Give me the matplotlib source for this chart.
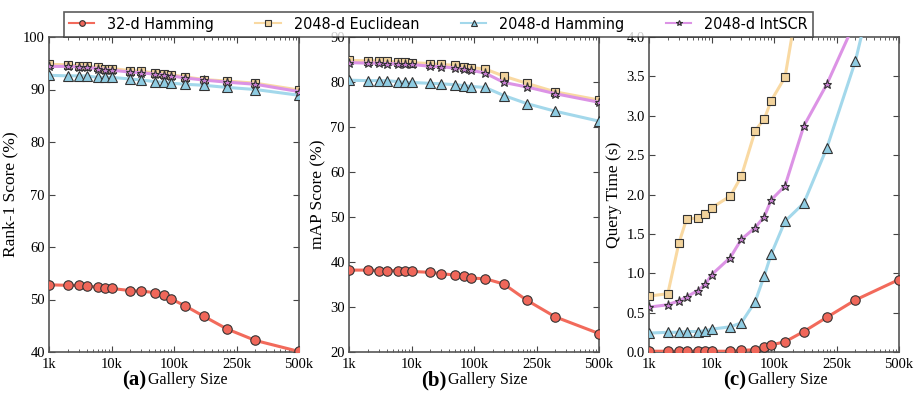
import numpy as np
import matplotlib
matplotlib.use('Agg')
import matplotlib.pyplot as plt
from matplotlib.ticker import FixedLocator, LogLocator, NullFormatter

plt.rcParams['font.family'] = 'Liberation Serif'

# x positions on the log axis (ticks at decades labelled below)
gallery_pos = [1e3, 2e3, 3e3, 4e3, 6e3, 8e3, 1e4, 2e4, 3e4, 5e4, 7e4, 9e4,
               1.5e5, 3e5, 7e5, 2e6, 1e7]
tick_pos = [1e3, 1e4, 1e5, 1e6, 1e7]
tick_labels = ['1k', '10k', '100k', '250k', '500k']

series_names = ['32-d Hamming', '2048-d Euclidean', '2048-d Hamming', '2048-d IntSCR']

rank1_ham32 = [52.8, 52.7, 52.7, 52.5, 52.4, 52.1, 52.1, 51.7, 51.6, 51.3, 50.8,
               50.1, 48.8, 46.8, 44.4, 42.2, 40.1]
rank1_euc = [94.8, 94.7, 94.5, 94.4, 94.2, 94.0, 94.0, 93.6, 93.5, 93.1, 93.0,
             92.8, 92.4, 91.9, 91.6, 91.2, 89.9]
rank1_ham2048 = [92.7, 92.6, 92.6, 92.6, 92.3, 92.3, 92.3, 92.0, 91.8, 91.5, 91.4,
                 91.2, 91.0, 90.8, 90.4, 90.0, 88.9]
rank1_intscr = [94.4, 94.4, 94.3, 94.2, 94.0, 93.8, 93.7, 93.3, 93.2, 92.9, 92.8,
                92.6, 92.2, 91.8, 91.4, 91.0, 89.6]

map_ham32 = [38.2, 38.2, 38.1, 38.1, 38.1, 37.9, 37.9, 37.7, 37.4, 37.1, 37.0,
             36.4, 36.3, 35.1, 31.5, 27.8, 24.1]
map_euc = [84.8, 84.7, 84.7, 84.6, 84.4, 84.4, 84.3, 84.1, 83.9, 83.7, 83.4,
           83.2, 82.9, 81.3, 79.7, 77.8, 76.0]
map_ham2048 = [80.4, 80.3, 80.3, 80.3, 80.1, 79.9, 79.9, 79.7, 79.6, 79.4, 79.2,
               79.0, 78.8, 77.0, 75.2, 73.5, 71.3]
map_intscr = [84.3, 84.2, 84.2, 84.1, 84.0, 83.9, 83.9, 83.5, 83.4, 83.1, 82.9,
              82.6, 82.0, 79.9, 78.9, 77.4, 75.5]

time_ham32 = [0.01, 0.01, 0.01, 0.01, 0.01, 0.01, 0.01, 0.01, 0.02, 0.03, 0.06,
              0.09, 0.13, 0.26, 0.44, 0.66, 0.92]
time_euc = [0.71, 0.74, 1.38, 1.69, 1.70, 1.75, 1.83, 1.98, 2.23, 2.81, 2.96,
            3.19, 3.49, 4.9]
time_ham2048 = [0.24, 0.25, 0.25, 0.26, 0.26, 0.27, 0.29, 0.32, 0.37, 0.64, 0.97,
                1.24, 1.66, 1.89, 2.59, 3.69, 6.0]
time_intscr = [0.57, 0.60, 0.65, 0.70, 0.78, 0.86, 0.98, 1.20, 1.43, 1.58, 1.72,
               1.93, 2.11, 2.87, 3.40, 4.2]

colors = ['#f26a5b', '#f9d9a2', '#a3d8eb', '#dc93e5']
faces = ['#f0675a', '#f2d39c', '#8fcce2', '#c97fd3']
markers = ['o', 's', '^', '*']
msizes = [6.8, 6.2, 6.8, 6.8]

panels = [
    ([rank1_ham32, rank1_euc, rank1_ham2048, rank1_intscr], (40, 100), np.arange(40, 101, 10),
     'Rank-1 Score (%)', '(a)', '%d'),
    ([map_ham32, map_euc, map_ham2048, map_intscr], (20, 90), np.arange(20, 91, 10),
     'mAP Score (%)', '(b)', '%d'),
    ([time_ham32, time_euc, time_ham2048, time_intscr], (0, 4), np.arange(0, 4.01, 0.5),
     'Query Time (s)', '(c)', '%.1f'),
]

fig = plt.figure(figsize=(9.15, 3.97), dpi=100)
lefts = [49 / 915, 349 / 915, 649 / 915]
handles = []
for k, (data, ylim, yticks, ylabel, tag, fmt) in enumerate(panels):
    ax = fig.add_axes([lefts[k], 1 - 352 / 397, 250 / 915, 315 / 397])
    for i, ys in enumerate(data):
        h, = ax.plot(gallery_pos[:len(ys)], ys, color=colors[i], lw=2.2,
                     marker=markers[i], ms=msizes[i], mfc=faces[i], mec='#333333',
                     mew=0.8, zorder=3 + (i == 0))
        if k == 0:
            handles.append(h)
    ax.set_xscale('log')
    ax.set_xlim(1e3, 1e7)
    ax.set_ylim(*ylim)
    ax.xaxis.set_major_locator(FixedLocator(tick_pos))
    ax.set_xticklabels(tick_labels)
    ax.xaxis.set_minor_locator(LogLocator(base=10, subs=np.arange(2, 10)))
    ax.xaxis.set_minor_formatter(NullFormatter())
    ax.set_yticks(yticks)
    ax.set_yticklabels([fmt % v for v in yticks])
    ax.tick_params(which='both', direction='in', top=True, right=True,
                   labelsize=10.5, color='#444444')
    ax.tick_params(axis='x', pad=4)
    ax.tick_params(axis='y', pad=3)
    ax.tick_params(which='major', length=4)
    ax.tick_params(which='minor', length=2.5)
    for s in ax.spines.values():
        s.set_color('#555555')
        s.set_linewidth(1.2)
    ax.set_ylabel(ylabel, fontsize=12.5, labelpad=3)
    ax.text(0.39, -0.09, tag, transform=ax.transAxes, ha='right', va='center',
            fontsize=15, fontweight='bold')
    ax.text(0.395, -0.09, 'Gallery Size', transform=ax.transAxes, ha='left', va='center',
            fontsize=11.5)

leg = fig.legend(handles, series_names, loc='upper center', bbox_to_anchor=(0.479, 0.99),
                 ncol=4, frameon=True, fancybox=False, markerscale=0.6,
                 handlelength=1.6, columnspacing=2.6, borderpad=0.3,
                 prop={'family': 'DejaVu Sans', 'size': 11.5, 'stretch': 'condensed'})
leg.get_frame().set_edgecolor('#333333')
leg.get_frame().set_linewidth(1.2)
for line in leg.get_lines():
    line.set_linewidth(1.5)

fig.savefig('out.png', dpi=100)
